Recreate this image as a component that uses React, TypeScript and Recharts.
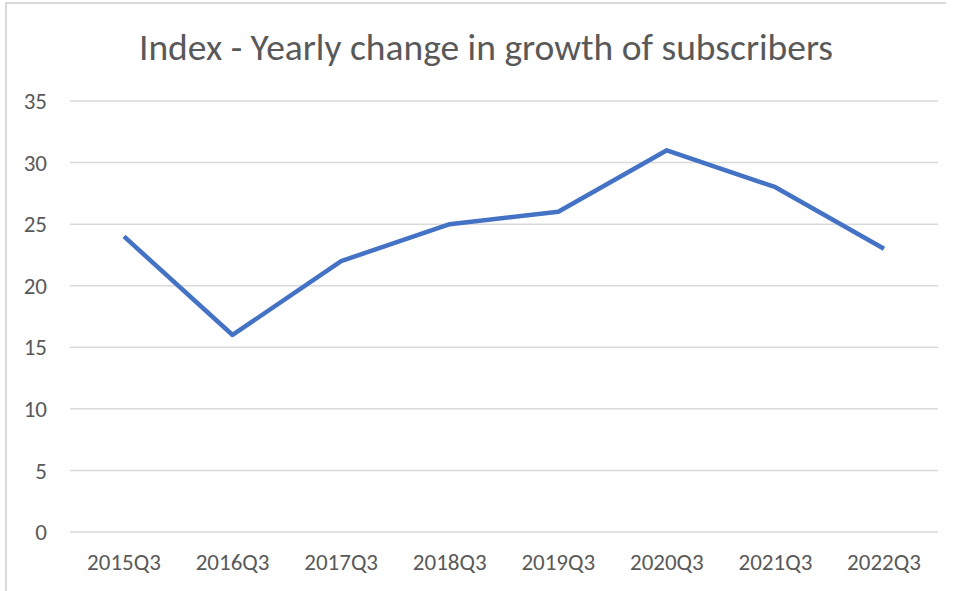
import React from "react";
import { LineChart, Line, XAxis, YAxis, CartesianGrid } from "recharts";

const categories = ["2015Q3", "2016Q3", "2017Q3", "2018Q3", "2019Q3", "2020Q3", "2021Q3", "2022Q3"];
const indexValues = [24, 16, 22, 25, 26, 31, 28, 23];
const yTicks = [0, 5, 10, 15, 20, 25, 30, 35];
const title = "Index - Yearly change in growth of subscribers";

const data = categories.map((c, i) => ({ name: c, value: indexValues[i] }));

const FONT = "Carlito, Calibri, 'Open Sans', 'Liberation Sans', sans-serif";

export default function App() {
  return (
    <div style={{ position: "absolute", left: 0, top: 0, width: 954, height: 591, background: "#fff", overflow: "hidden", fontFamily: FONT }}>
      <div style={{ position: "absolute", left: 5, top: 2, width: 941, height: 620, borderLeft: "2px solid #d9d9d9", borderTop: "2px solid #d9d9d9", boxSizing: "border-box" }} />
      <div style={{ position: "absolute", left: 0, top: 24, width: 972, textAlign: "center", fontSize: 37.5, color: "#595959", lineHeight: "46px", whiteSpace: "nowrap" }}>
        {title}
      </div>
      <div style={{ position: "absolute", left: 0, top: 0 }}>
        <LineChart width={954} height={591} data={data} margin={{ top: 101, right: 16, bottom: 0, left: 0 }}>
          <CartesianGrid vertical={false} stroke="#d9d9d9" strokeWidth={1.5} />
          <XAxis
            dataKey="name"
            height={59}
            padding={{ left: 54, right: 54 }}
            axisLine={false}
            tickLine={false}
            tickSize={0}
            tickMargin={22}
            tick={{ fill: "#595959", fontSize: 23, fontFamily: FONT }}
            interval={0}
          />
          <YAxis
            domain={[0, 35]}
            ticks={yTicks}
            width={70}
            axisLine={false}
            tickLine={false}
            tickSize={0}
            tickMargin={23}
            tick={{ fill: "#595959", fontSize: 23, fontFamily: FONT }}
          />
          <Line
            type="linear"
            dataKey="value"
            stroke="#4472C4"
            strokeWidth={4.5}
            dot={false}
            activeDot={false}
            isAnimationActive={false}
            strokeLinejoin="round"
          />
        </LineChart>
      </div>
    </div>
  );
}
